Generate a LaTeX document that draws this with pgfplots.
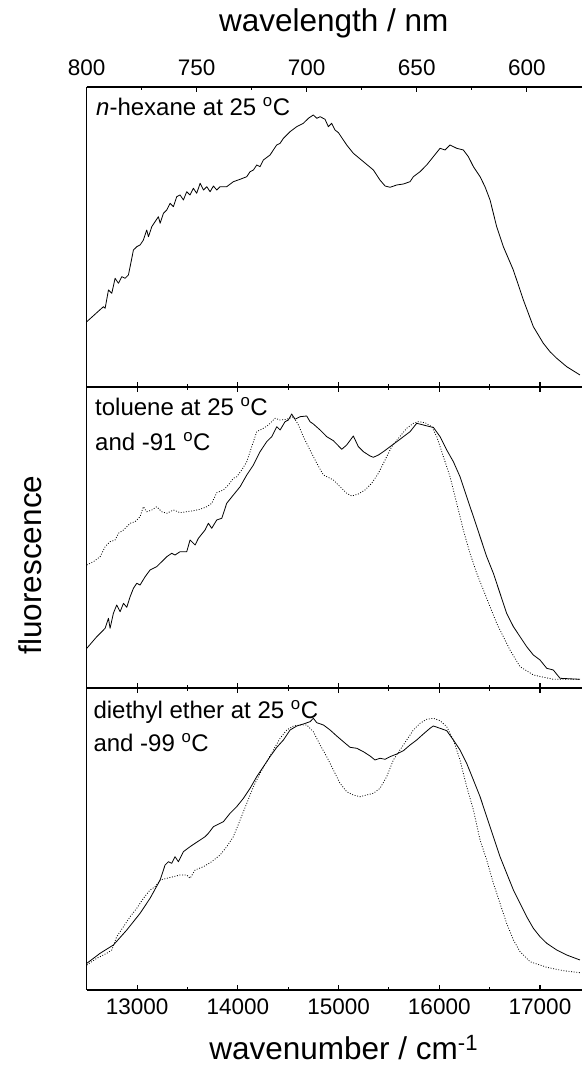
\documentclass[border=0pt]{standalone}
\usepackage{fontspec}
\setmainfont{Liberation Sans}
\usepackage{pgfplots}
\usepackage{pgfplotstable}
\pgfplotsset{compat=1.18}

% spectra: wavenumber (cm^-1) vs fluorescence (arb. units, panel height scale)
\pgfplotstableread{
x y
12501 65.3
12666 80.3
12683 78.7
12716 97
12749 93.7
12782 108.7
12815 103.7
12848 110.3
12881 108.7
12914 112
12931 120.3
12964 137
12997 140.3
13030 142
13063 147
13096 157
13113 150.3
13146 160.3
13179 165.3
13212 170.3
13229 163.7
13262 173.7
13295 177
13328 183.7
13361 180.3
13394 190.3
13427 192
13460 187
13493 195.3
13526 192
13559 198.7
13592 193.7
13626 203.7
13659 197
13692 200.3
13725 195.3
13758 201
13791 197
13824 200.3
13890 200.3
13956 205.3
14023 207.7
14089 210.3
14122 215.3
14155 217
14188 222
14221 220.3
14254 227
14320 232
14386 242
14420 243.7
14453 248.7
14519 255.3
14585 260.3
14651 263.7
14701 268.7
14750 272
14784 268.7
14817 270.3
14866 267.7
14899 260.3
14932 263.7
14965 257
14999 254.3
15081 242
15147 233.7
15247 225.3
15346 217
15411 207
15462 201
15511 199.7
15578 202
15644 203
15710 205.3
15743 210.3
15809 215.3
15875 222
15941 230.3
16008 238.7
16057 237
16107 242
16173 238.7
16239 237
16289 230.3
16339 220.3
16405 210.3
16454 200.3
16504 187
16570 160.3
16636 140.3
16735 117
16835 87
16934 60.3
17033 43.7
17099 35.3
17166 28.7
17265 20.3
17397 12
}\hexane

\pgfplotstableread{
x y
12501 39.7
12600 51.3
12683 59.7
12716 69.7
12732 59.7
12765 74.7
12798 83
12832 76.3
12865 84.7
12898 80.7
12931 91.3
12964 99.7
12997 104.7
13030 103
13080 111.3
13129 118
13195 121.3
13245 126.3
13295 131.3
13344 134.7
13377 133
13427 136.3
13493 136.3
13526 148
13576 143
13609 149.7
13675 158
13708 164.7
13741 159.7
13791 168
13841 169.7
13890 184.7
13956 193
14023 201.3
14089 213
14155 223
14221 236.3
14287 246.3
14337 251.3
14387 261.3
14420 258
14469 266.3
14502 268
14535 274
14568 268.7
14618 271.3
14684 272
14717 266.3
14750 264
14817 258
14883 251.3
14949 247.3
15032 238.7
15081 243
15147 252
15197 241.3
15247 236.3
15313 232
15346 230.7
15396 233
15445 236.3
15511 241.3
15578 246.3
15644 251.3
15710 256.3
15776 264.7
15842 263
15908 261.3
15941 260.7
16008 251.3
16074 238
16140 226.3
16206 211.3
16272 191.3
16339 171.3
16405 151.3
16471 131.3
16537 114.7
16603 94.7
16669 74.7
16736 61.3
16802 51.3
16868 41.3
16934 33
17000 28
17067 19.7
17132 18
17199 9.7
17397 8.7
}\tolwarm

\pgfplotstableread{
x y
12501 123
12567 126.3
12633 131.3
12683 141.3
12732 146.3
12782 148
12815 154.7
12865 158
12898 161.3
12931 164.7
12980 166.3
13030 171.3
13063 181.3
13096 176.3
13146 178
13195 181.3
13245 176.3
13295 174.7
13361 178
13427 175.3
13493 176.3
13559 177.3
13626 178.7
13692 181.3
13741 184.7
13791 195.3
13857 198
13907 203
13956 209.7
13990 211.3
14039 218
14089 226.3
14138 241.3
14188 256.3
14254 259.7
14304 263
14370 269.7
14420 268
14486 268.7
14552 271.3
14602 263
14651 251.3
14717 238
14784 224.7
14850 213
14949 208
15015 201.3
15081 194.7
15131 192
15197 194
15263 198
15329 204.7
15396 214.7
15462 228
15528 241.3
15594 249.7
15677 259.7
15743 264.7
15793 266.3
15859 265.3
15925 261.3
15975 251.3
16041 231.3
16107 211.3
16173 184.7
16239 158
16305 134.7
16372 114.7
16438 98
16504 81.3
16570 64.7
16636 51.3
16702 38
16802 21.3
16934 13
17132 8.7
17397 8.7
}\tolcold

\pgfplotstableread{
x y
12501 26.7
12633 36.7
12765 45
12898 60
13030 76.7
13129 91.7
13229 110
13278 125
13311 128.3
13344 126.7
13377 133.3
13410 128.3
13460 138.3
13526 143.3
13576 146.7
13626 150
13675 153.3
13708 156.7
13758 163.3
13791 165
13857 168.3
13923 176.7
13989 183.3
14056 191.7
14122 201.7
14188 213.3
14254 223.3
14320 233.3
14387 242.7
14453 250
14519 260
14585 264
14651 266
14717 268.3
14750 271.7
14784 267.3
14850 265
14916 260
14982 254
15048 248.3
15114 242.7
15181 241.7
15247 238.3
15313 234
15362 230
15412 231.7
15462 230.7
15511 233.3
15578 236
15644 239.3
15710 245
15776 250
15842 256
15908 261.7
15941 264
16008 261.7
16074 259.3
16140 250
16206 240
16272 226.7
16339 210
16405 193.3
16471 173.3
16537 153.3
16603 133.3
16669 116.7
16736 100
16802 86.7
16868 73.3
16934 61.7
17000 53.3
17067 46.7
17166 40
17265 35
17397 30
}\etherwarm

\pgfplotstableread{
x y
12501 25
12600 31.7
12699 36.7
12749 40
12798 53.3
12865 63.3
12931 73.3
12997 81.7
13063 91.7
13129 100
13179 103.3
13229 110
13295 111.7
13361 113.3
13427 115
13493 115
13526 111.7
13576 120
13659 123.3
13741 128.3
13824 135
13890 143.3
13956 153.3
14023 170
14089 186.7
14155 203.3
14221 216.7
14287 228.3
14353 240
14420 251.7
14486 260
14552 264
14618 265
14684 265
14750 258.3
14817 245
14883 233.3
14949 220
15015 206.7
15081 198.3
15147 195
15214 193.3
15280 195
15346 196.7
15412 201.7
15478 213.3
15544 230
15610 240
15677 250
15743 260
15809 266.7
15875 270.7
15941 271.7
16008 269.3
16074 263.3
16140 250
16206 230
16272 203.3
16339 180
16405 150
16471 130
16537 106.7
16603 86.7
16669 66.7
16736 50
16802 38.3
16901 28.3
17067 22.7
17232 19.3
17397 17.3
}\ethercold

\pgfplotsset{
  panel/.style={
    scale only axis, width=495.3pt, xmin=12500, xmax=17417,
    axis y line*=left, ytick=\empty,
    xtick={13000,14000,15000,16000,17000}, minor x tick num=1,
    scaled x ticks=false,
    tick align=inside, major tick length=5pt, minor tick length=3pt,
    every tick/.style={black, line width=1.1pt},
    axis line style={line width=1.4pt},
    xticklabels={},
  },
  solidc/.style={black, line width=0.8pt, line join=round},
  dotc/.style={black, line width=0.8pt, dash pattern=on 0.9pt off 1.7pt},
}
\tikzset{lbl/.style={font=\fontsize{24}{28}\selectfont, anchor=base west, inner sep=0pt}}

\begin{document}
\begin{tikzpicture}
% bottom: diethyl ether
\begin{axis}[panel, at={(0,0)}, anchor=south west, height=302pt, ymin=0, ymax=302,
  xticklabels={13000,14000,15000,16000,17000},
  xticklabel style={font=\fontsize{22.5}{27}\selectfont, anchor=base, yshift=-25pt},
  /pgf/number format/assume math mode=true]
\addplot[solidc] table[x=x,y=y] {\etherwarm};
\addplot[dotc] table[x=x,y=y] {\ethercold};
\node[lbl] at ([xshift=6.6pt,yshift=-30.3pt]rel axis cs:0,1) {diethyl ether at 25 \textsuperscript{o}C};
\node[lbl] at ([xshift=6.6pt,yshift=-63.7pt]rel axis cs:0,1) {and -99 \textsuperscript{o}C};
\end{axis}
% middle: toluene
\begin{axis}[panel, at={(0,302pt)}, anchor=south west, height=301pt, ymin=0, ymax=301]
\addplot[solidc] table[x=x,y=y] {\tolwarm};
\addplot[dotc] table[x=x,y=y] {\tolcold};
\node[lbl] at ([xshift=8.3pt,yshift=-29pt]rel axis cs:0,1) {toluene at 25 \textsuperscript{o}C};
\node[lbl] at ([xshift=8.3pt,yshift=-64pt]rel axis cs:0,1) {and -91 \textsuperscript{o}C};
\end{axis}
% top: n-hexane
\begin{axis}[panel, at={(0,603pt)}, anchor=south west, height=300pt, ymin=0, ymax=300,
  xtick pos=left]
\addplot[solidc] table[x=x,y=y] {\hexane};
\node[lbl] at ([xshift=9.3pt,yshift=-29pt]rel axis cs:0,1) {\textit{n}-hexane at 25 \textsuperscript{o}C};
\end{axis}
% wavelength scale on top
\begin{axis}[scale only axis, width=495.3pt, height=300pt, at={(0,603pt)}, anchor=south west,
  x dir=reverse, xmin=574.9, xmax=800, ymin=0, ymax=1,
  axis x line*=top, axis y line=none,
  xtick={600,650,700,750,800}, minor xtick={625,675,725,775},
  tick align=inside, major tick length=5pt, minor tick length=3pt,
  every tick/.style={black, line width=1.1pt},
  axis line style={line width=1.4pt},
  xticklabel style={font=\fontsize{22.5}{27}\selectfont, anchor=base, yshift=11pt},
  /pgf/number format/assume math mode=true]
\end{axis}
\node[anchor=base, font=\fontsize{31.5}{38}\selectfont] at (247pt,958pt) {wavelength / nm};
\node[anchor=base, font=\fontsize{31.5}{38}\selectfont] at (257pt,-70pt) {wavenumber / cm\textsuperscript{-1}};
\node[anchor=base, rotate=90, font=\fontsize{31.5}{38}\selectfont] at (-45pt,425pt) {fluorescence};
\pgfresetboundingbox
\path[use as bounding box] (-86.7pt,-77pt) rectangle (495.3pt,990pt);
\end{tikzpicture}
\end{document}
